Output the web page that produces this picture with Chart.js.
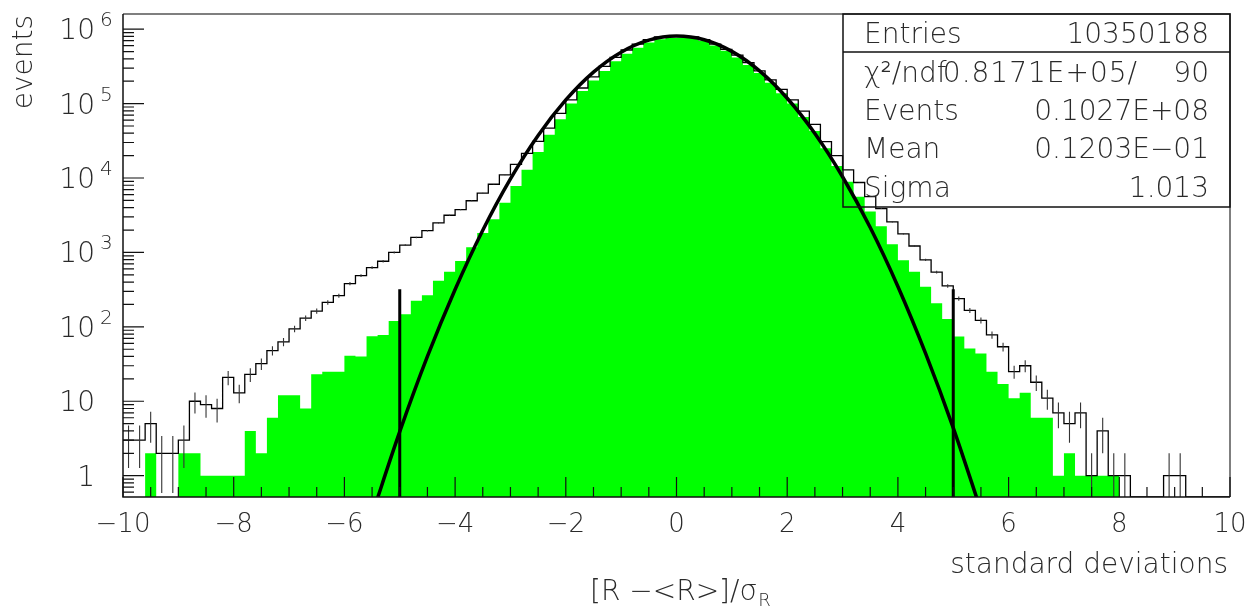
<!DOCTYPE html>
<html>
<head>
<meta charset="utf-8">
<script src="https://cdn.jsdelivr.net/npm/chart.js@4/dist/chart.umd.min.js"></script>
<style>
  html, body { margin: 0; padding: 0; background: #fff; }
  #wrap { width: 1254px; height: 608px; position: relative; }
</style>
</head>
<body>
<div id="wrap"><canvas id="c"></canvas></div>
<script>
// 100 bins of width 0.2 from -10 to 10
const binLo = -10;
const binWidth = 0.2;

// green histogram (filled)
const selected = [
  0, 0, 2, 0, 0, 2, 2, 1, 1, 1,
  1, 4, 2, 6, 12, 12, 8, 23, 25, 25,
  41, 40, 75, 78, 120, 148, 224, 265, 415, 550,
  767, 1170, 1830, 2800, 4670, 7800, 12900, 22400, 38000, 61700,
  100000, 148000, 204000, 275000, 372000, 468000, 562000, 661000, 733000, 759000,
  767000, 759000, 692000, 603000, 513000, 417000, 331000, 257000, 191000, 138000,
  100000, 66100, 42700, 25100, 14500, 8900, 5620, 3550, 2240, 1290,
  785, 550, 347, 207, 127, 74, 51, 44, 25, 17,
  11, 13, 6, 6, 1, 2, 1, 1, 1, 1,
  0, 0, 0, 0, 0, 0, 0, 0, 0, 0
];

// black histogram (outline with error bars)
const allEvents = [
  3, 3, 5, 2, 2, 3, 10, 9, 8, 21,
  13, 23, 32, 48, 63, 94, 131, 163, 213, 262,
  381, 488, 626, 761, 1000, 1251, 1590, 1960, 2500, 3160,
  3760, 4950, 6250, 8250, 11000, 15300, 21400, 31000, 46800, 74100,
  112000, 162000, 229000, 316000, 417000, 525000, 631000, 724000, 785000, 804000,
  804000, 785000, 724000, 631000, 537000, 447000, 355000, 275000, 209000, 155000,
  112000, 79400, 52500, 30900, 20000, 12900, 8710, 5620, 3890, 2570,
  1780, 1220, 794, 543, 355, 240, 166, 122, 78, 54,
  25, 30, 18, 11, 7, 5, 7, 1, 4, 1,
  1, 0, 0, 0, 1, 1, 0, 0, 0, 0
];

// gaussian fit curve, read at half-unit steps
const fitX = [-5.5, -5, -4.5, -4, -3.5, -3, -2.5, -2, -1.5, -1, -0.5, 0,
              0.5, 1, 1.5, 2, 2.5, 3, 3.5, 4, 4.5, 5, 5.5];
const fitY = [0.30, 3.9, 40, 318, 1990, 9760, 37400, 112000, 265000, 491000, 712000, 808000,
              721000, 503000, 275000, 118000, 39600, 10400, 2160, 349, 44, 4.4, 0.34];

// cut lines at +-5 sigma
const cutX = [-5, 5];
const cutTop = 320;

// axes
const xMin = -10, xMax = 10;
const yMin = 0.517, yMax = 1.6e6;
const xMajor = [-10, -8, -6, -4, -2, 0, 2, 4, 6, 8, 10];
const xMajorLabels = ['\u221210', '\u22128', '\u22126', '\u22124', '\u22122', '0', '2', '4', '6', '8', '10'];
const xMinorStep = 0.5;
const yDecades = [1, 10, 100, 1000, 10000, 100000, 1000000];
const yBase = ['1', '10', '10', '10', '10', '10', '10'];
const yExp = ['', '', '2', '3', '4', '5', '6'];

// statistics box
const statNames = ['Entries', '\u03C7\u00B2/ndf', 'Events', 'Mean', 'Sigma'];
const statValues = ['10350188', '90', '0.1027E+08', '0.1203E\u221201', '1.013'];
const chi2Value = '0.8171E+05/';

const FONT = '"DejaVu Sans", "Liberation Sans", sans-serif';

// build datasets
function edgeSteps(vals) {
  const pts = vals.map((v, i) => ({ x: binLo + i * binWidth, y: v > 0 ? v : yMin }));
  const last = vals[vals.length - 1];
  pts.push({ x: binLo + vals.length * binWidth, y: last > 0 ? last : yMin });
  return pts;
}

const errPts = [];
allEvents.forEach((n, i) => {
  if (n <= 0) return;
  const c = binLo + (i + 0.5) * binWidth;
  const e = Math.sqrt(n);
  errPts.push({ x: c, y: Math.max(n - e, yMin) }, { x: c, y: n + e }, { x: c, y: null });
});

const cutPts = [];
cutX.forEach(cx => cutPts.push({ x: cx, y: yMin }, { x: cx, y: cutTop }, { x: cx, y: null }));

const fitPts = fitX.map((x, i) => ({ x: x, y: fitY[i] }));

const decor = {
  id: 'decor',
  afterDatasetsDraw(chart) {
    const ctx = chart.ctx;
    const a = chart.chartArea;
    const xs = chart.scales.x, ys = chart.scales.y;
    ctx.save();

    // frame
    ctx.lineWidth = 1.5;
    ctx.strokeStyle = '#555';
    ctx.beginPath();
    ctx.moveTo(a.left, a.top); ctx.lineTo(a.right, a.top); ctx.lineTo(a.right, a.bottom);
    ctx.stroke();
    ctx.strokeStyle = '#111';
    ctx.beginPath();
    ctx.moveTo(a.left, a.top); ctx.lineTo(a.left, a.bottom); ctx.lineTo(a.right, a.bottom);
    ctx.stroke();

    // x ticks (inward)
    ctx.lineWidth = 1.2;
    ctx.beginPath();
    for (let v = xMin; v <= xMax + 1e-9; v += xMinorStep) {
      const px = xs.getPixelForValue(v);
      const major = xMajor.some(m => Math.abs(m - v) < 1e-9);
      ctx.moveTo(px, a.bottom);
      ctx.lineTo(px, a.bottom - (major ? 20 : 10));
    }
    ctx.stroke();

    // y ticks (inward)
    ctx.beginPath();
    for (let d = 0.1; d <= yMax; d *= 10) {
      for (let m = 1; m <= 9; m++) {
        const v = m * d;
        if (v < yMin || v > yMax) continue;
        const py = ys.getPixelForValue(v);
        ctx.moveTo(a.left, py);
        ctx.lineTo(a.left + (m === 1 ? 21 : 11), py);
      }
    }
    ctx.stroke();

    ctx.fillStyle = '#2a2a2a';
    // x tick labels
    ctx.font = '200 26px ' + FONT;
    ctx.textAlign = 'center';
    ctx.textBaseline = 'alphabetic';
    xMajor.forEach((v, i) => ctx.fillText(xMajorLabels[i], xs.getPixelForValue(v), 532));

    // y tick labels
    yDecades.forEach((v, i) => {
      const py = ys.getPixelForValue(v);
      ctx.font = '200 28px ' + FONT;
      ctx.textAlign = 'right';
      ctx.fillText(yBase[i], 95, py + 10);
      if (yExp[i]) {
        ctx.font = '200 20px ' + FONT;
        ctx.textAlign = 'left';
        ctx.fillText(yExp[i], 100, py - 3);
      }
    });

    // axis titles
    ctx.font = '200 28px ' + FONT;
    ctx.textAlign = 'right';
    ctx.fillText('standard deviations', 1228, 573);
    ctx.textAlign = 'left';
    ctx.fillText('[R \u2212<R>]/\u03C3', 590, 600);
    const w = ctx.measureText('[R \u2212<R>]/\u03C3').width;
    ctx.font = '200 18px ' + FONT;
    ctx.fillText('R', 590 + w + 1, 606);

    ctx.save();
    ctx.translate(32, 15);
    ctx.rotate(-Math.PI / 2);
    ctx.font = '200 28px ' + FONT;
    ctx.textAlign = 'right';
    ctx.fillText('events', 0, 0);
    ctx.restore();

    // statistics box
    ctx.strokeStyle = '#111';
    ctx.lineWidth = 1.5;
    ctx.strokeRect(843, 14, 1230 - 843, 207 - 14);
    ctx.beginPath(); ctx.moveTo(843, 52); ctx.lineTo(1230, 52); ctx.stroke();
    const rowY = [43, 82, 120, 158, 197];
    ctx.font = '200 28px ' + FONT;
    statNames.forEach((s, i) => {
      ctx.textAlign = 'left';
      ctx.fillText(s, 864, rowY[i]);
      ctx.textAlign = 'right';
      ctx.fillText(statValues[i], 1209, rowY[i]);
    });
    ctx.textAlign = 'right';
    ctx.letterSpacing = '1px';
    ctx.fillText(chi2Value, 1138, rowY[1]);
    ctx.letterSpacing = '0px';

    ctx.restore();
  }
};

new Chart(document.getElementById('c'), {
  type: 'line',
  data: {
    datasets: [
      { data: fitPts, borderColor: '#000', borderWidth: 3.5, pointRadius: 0,
        cubicInterpolationMode: 'monotone', fill: false, order: 1 },
      { data: cutPts, borderColor: '#000', borderWidth: 3, pointRadius: 0, fill: false, order: 2 },
      { data: errPts, borderColor: '#333', borderWidth: 1.1, pointRadius: 0, fill: false, order: 3 },
      { data: edgeSteps(allEvents), borderColor: '#000', borderWidth: 1.3, pointRadius: 0,
        stepped: 'before', fill: false, order: 4 },
      { data: edgeSteps(selected), borderWidth: 0, borderColor: 'rgba(0,0,0,0)', pointRadius: 0,
        stepped: 'before', fill: 'start', backgroundColor: '#00ff00', order: 5 }
    ]
  },
  options: {
    responsive: true,
    maintainAspectRatio: false,
    animation: false,
    layout: { padding: { left: 123, right: 24, top: 14, bottom: 111 } },
    plugins: { legend: { display: false }, tooltip: { enabled: false } },
    scales: {
      x: { type: 'linear', min: xMin, max: xMax, display: false },
      y: { type: 'logarithmic', min: yMin, max: yMax, display: false }
    }
  },
  plugins: [decor]
});
</script>
</body>
</html>
